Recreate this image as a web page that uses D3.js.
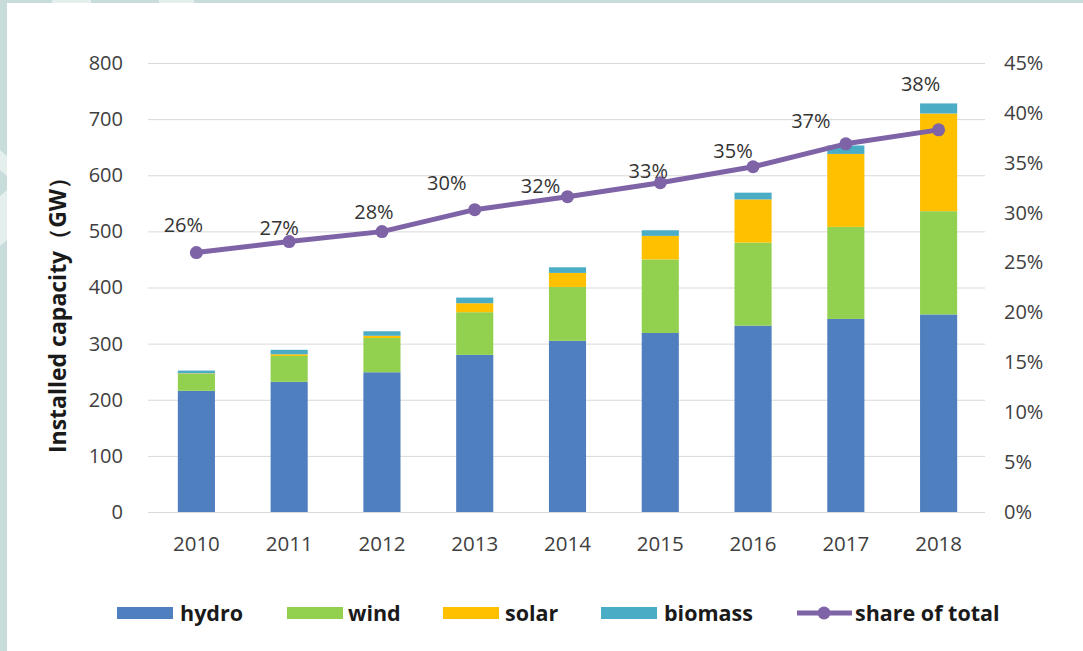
<!DOCTYPE html>
<html>
<head>
<meta charset="utf-8">
<script src="https://cdn.jsdelivr.net/npm/d3@7"></script>
<style>
  html, body { margin: 0; padding: 0; background: #ffffff; }
  svg { display: block; }
  text { font-family: "Open Sans", "DejaVu Sans", sans-serif; }
</style>
</head>
<body>
<svg id="chart" width="1083" height="651"></svg>
<script>
// Installed renewable capacity by source (GW), 2010-2018
const years   = ["2010","2011","2012","2013","2014","2015","2016","2017","2018"];
const hydro   = [216, 232, 249, 280, 305, 319, 332, 344, 352];
const wind    = [ 30,  46,  61,  76,  96, 131, 148, 164, 184];
const solar   = [  1,   3,   4,  16,  25,  42,  77, 130, 174];
const biomass = [  5,   8,   8,  10,  10,  10,  12,  15,  18];
// Renewables' share of total installed capacity
const share   = [0.260, 0.271, 0.281, 0.303, 0.316, 0.330, 0.346, 0.369, 0.383];

const leftTicks  = [0, 100, 200, 300, 400, 500, 600, 700, 800];
const rightTicks = [0, 0.05, 0.10, 0.15, 0.20, 0.25, 0.30, 0.35, 0.40, 0.45];

const seriesKeys   = ["hydro", "wind", "solar", "biomass"];
const seriesColors = ["#4f7fbf", "#92d050", "#ffc000", "#4bacc6"];
const lineColor    = "#7f63a7";

// Hand-placed offsets of the percentage labels relative to each point
const labelOffsets = [[-13,-28],[-10,-14],[-8,-20],[-28,-27],[-27,-11],[-12,-12],[-20,-16],[-35,-23],[-18,-46]];

const svg = d3.select("#chart");

// Frame: tinted border strips on the top and left edges
const frame = svg.append("g");
frame.append("rect").attr("width", 1083).attr("height", 651).attr("fill", "#c8dcdb");
frame.append("rect").attr("x", 7).attr("y", 3).attr("width", 1076).attr("height", 648).attr("fill", "#ffffff");
frame.append("rect").attr("x", 52).attr("y", 0).attr("width", 39).attr("height", 3).attr("fill", "#e4efee");
frame.append("rect").attr("x", 159).attr("y", 0).attr("width", 35).attr("height", 3).attr("fill", "#e4efee");
frame.append("polygon").attr("points", "0,150 7,156 7,176 0,170").attr("fill", "#e4efee");
frame.append("polygon").attr("points", "0,196 7,190 7,240 0,246").attr("fill", "#e4efee");

const margin = { left: 150, right: 985, top: 63, bottom: 512 };

const x = d3.scaleBand().domain(years).range([margin.left, margin.right]).paddingInner(0.6).paddingOuter(0.3);
const xc = d3.scaleBand().domain(years).range([margin.left, margin.right]);
const y = d3.scaleLinear().domain([0, 800]).range([margin.bottom, margin.top]);
const y2 = d3.scaleLinear().domain([0, 0.45]).range([margin.bottom, margin.top]);

// Gridlines
svg.append("g")
  .selectAll("line").data(leftTicks).join("line")
  .attr("x1", margin.left - 2).attr("x2", margin.right)
  .attr("y1", d => y(d) + 0.5).attr("y2", d => y(d) + 0.5)
  .attr("stroke", "#d9d9d9").attr("stroke-width", 1);

// Left axis
const leftAxis = svg.append("g")
  .attr("transform", `translate(${margin.left - 27},0)`)
  .call(d3.axisLeft(y).tickValues(leftTicks).tickSize(0).tickPadding(0));
leftAxis.select(".domain").remove();
leftAxis.selectAll("text").attr("font-size", 20).attr("fill", "#404040")
  .attr("font-family", '"Open Sans", sans-serif');

// Right axis
const rightAxis = svg.append("g")
  .attr("transform", `translate(${margin.right + 19},0)`)
  .call(d3.axisRight(y2).tickValues(rightTicks).tickFormat(d3.format(".0%")).tickSize(0).tickPadding(0));
rightAxis.select(".domain").remove();
rightAxis.selectAll("text").attr("font-size", 20).attr("fill", "#404040")
  .attr("font-family", '"Open Sans", sans-serif');

// Bottom axis
const bottomAxis = svg.append("g")
  .attr("transform", `translate(0,${margin.bottom + 24})`)
  .call(d3.axisBottom(xc).tickSize(0).tickPadding(0));
bottomAxis.select(".domain").remove();
bottomAxis.selectAll("text").attr("font-size", 20.5).attr("fill", "#404040")
  .attr("dy", "0.71em").attr("font-family", '"Open Sans", sans-serif');

// Y-axis title
svg.append("text")
  .attr("transform", `translate(66,${(margin.top + margin.bottom) / 2 + 22}) rotate(-90)`)
  .attr("text-anchor", "middle")
  .attr("font-size", 23).attr("font-weight", "bold").attr("fill", "#1a1a1a")
  .text("Installed capacity（GW）");

// Stacked bars
const table = years.map((yr, i) => ({ year: yr, hydro: hydro[i], wind: wind[i], solar: solar[i], biomass: biomass[i] }));
const stacked = d3.stack().keys(seriesKeys)(table);

svg.append("g").selectAll("g").data(stacked).join("g")
  .attr("fill", (d, i) => seriesColors[i])
  .selectAll("rect").data(d => d).join("rect")
  .attr("x", d => x(d.data.year))
  .attr("width", x.bandwidth())
  .attr("y", d => y(d[1]))
  .attr("height", d => y(d[0]) - y(d[1]));

// Share line with markers
const cx = i => xc(years[i]) + xc.bandwidth() / 2;
const line = d3.line().x((d, i) => cx(i)).y(d => y2(d));
svg.append("path").datum(share)
  .attr("d", line).attr("fill", "none")
  .attr("stroke", lineColor).attr("stroke-width", 5).attr("stroke-linejoin", "round");
svg.append("g").selectAll("circle").data(share).join("circle")
  .attr("cx", (d, i) => cx(i)).attr("cy", d => y2(d)).attr("r", 6.5)
  .attr("fill", lineColor);

// Percentage labels
svg.append("g").selectAll("text").data(share).join("text")
  .attr("x", (d, i) => cx(i) + labelOffsets[i][0])
  .attr("y", (d, i) => y2(d) + labelOffsets[i][1])
  .attr("text-anchor", "middle").attr("dy", "0.35em")
  .attr("font-size", 20).attr("fill", "#333333")
  .text(d => d3.format(".0%")(d));

// Legend
const legendItems = [
  { label: "hydro",   color: seriesColors[0], sx: 117, tx: 180 },
  { label: "wind",    color: seriesColors[1], sx: 287, tx: 348 },
  { label: "solar",   color: seriesColors[2], sx: 443, tx: 505 },
  { label: "biomass", color: seriesColors[3], sx: 601, tx: 664 }
];
const legend = svg.append("g");
const ly = 613;
legend.selectAll("rect").data(legendItems).join("rect")
  .attr("x", d => d.sx).attr("y", ly - 6).attr("width", 56).attr("height", 12)
  .attr("fill", d => d.color);
legend.selectAll("text.item").data(legendItems).join("text").attr("class", "item")
  .attr("x", d => d.tx).attr("y", ly).attr("dy", "0.35em")
  .attr("font-size", 21.5).attr("font-weight", "bold").attr("fill", "#1a1a1a")
  .text(d => d.label);
legend.append("line").attr("x1", 797).attr("x2", 852).attr("y1", ly).attr("y2", ly)
  .attr("stroke", lineColor).attr("stroke-width", 5);
legend.append("circle").attr("cx", 824).attr("cy", ly).attr("r", 6.5).attr("fill", lineColor);
legend.append("text").attr("x", 855).attr("y", ly).attr("dy", "0.35em")
  .attr("font-size", 21.5).attr("font-weight", "bold").attr("fill", "#1a1a1a")
  .text("share of total");
</script>
</body>
</html>
